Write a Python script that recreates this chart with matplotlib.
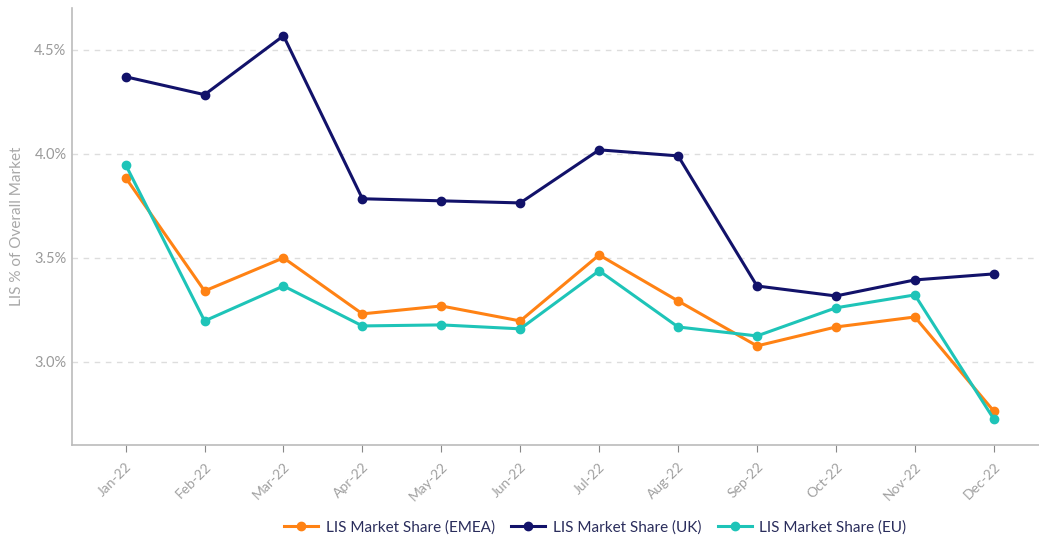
import matplotlib
matplotlib.use("Agg")
import matplotlib.pyplot as plt
from matplotlib.ticker import FuncFormatter

months = ["Jan-22", "Feb-22", "Mar-22", "Apr-22", "May-22", "Jun-22",
          "Jul-22", "Aug-22", "Sep-22", "Oct-22", "Nov-22", "Dec-22"]
emea = [3.885, 3.341, 3.500, 3.231, 3.269, 3.197, 3.514, 3.293, 3.077, 3.168, 3.216, 2.764]
uk = [4.370, 4.284, 4.567, 3.784, 3.774, 3.764, 4.019, 3.990, 3.365, 3.317, 3.394, 3.423]
eu = [3.947, 3.197, 3.365, 3.173, 3.178, 3.159, 3.438, 3.168, 3.125, 3.260, 3.322, 2.726]
y_ticks = [3.0, 3.5, 4.0, 4.5]

plt.rcParams["font.family"] = ["Lato", "DejaVu Sans"]

fig = plt.figure(figsize=(10.39, 5.39), dpi=100)
ax = fig.add_axes([0.0693, 0.174, 0.935, 0.811])

x = range(len(months))
series = [
    ("LIS Market Share (EMEA)", emea, "#FF8214"),
    ("LIS Market Share (UK)", uk, "#12126A"),
    ("LIS Market Share (EU)", eu, "#1EC4B8"),
]
handles = []
for label, vals, color in series:
    h, = ax.plot(x, vals, color=color, lw=2.2, marker="o", ms=6, label=label)
    handles.append(h)

ax.set_xlim(-0.68, 11.63)
ax.set_ylim(2.6, 4.7)
ax.set_yticks(y_ticks)
ax.yaxis.set_major_formatter(FuncFormatter(lambda v, _: f"{v:.1f}%"))
ax.set_xticks(list(x))
ax.set_xticklabels(months, rotation=45, ha="right", rotation_mode="anchor")

ax.grid(axis="y", color="#dddddd", ls=(0, (4, 4)), lw=1)
ax.set_axisbelow(True)
for s in ("top", "right"):
    ax.spines[s].set_visible(False)
for s in ("left", "bottom"):
    ax.spines[s].set_color("#bbbbbb")
    ax.spines[s].set_linewidth(1.2)

ax.tick_params(axis="y", length=0, pad=4, labelsize=10.5, labelcolor="#9a9a9a")
ax.tick_params(axis="x", length=5, color="#888888", pad=6, labelsize=10, labelcolor="#a0a0a0")

ax.set_ylabel("LIS % of Overall Market", color="#a8a8a8", fontsize=11)
ax.yaxis.set_label_coords(-0.049, 0.50)

fig.legend(handles=handles, loc="center", bbox_to_anchor=(0.573, 0.022), ncol=3,
           frameon=False, fontsize=11, labelcolor="#2a2d5c",
           handlelength=2.2, columnspacing=1.1, handletextpad=0.5)

fig.savefig("out.png", dpi=100)
